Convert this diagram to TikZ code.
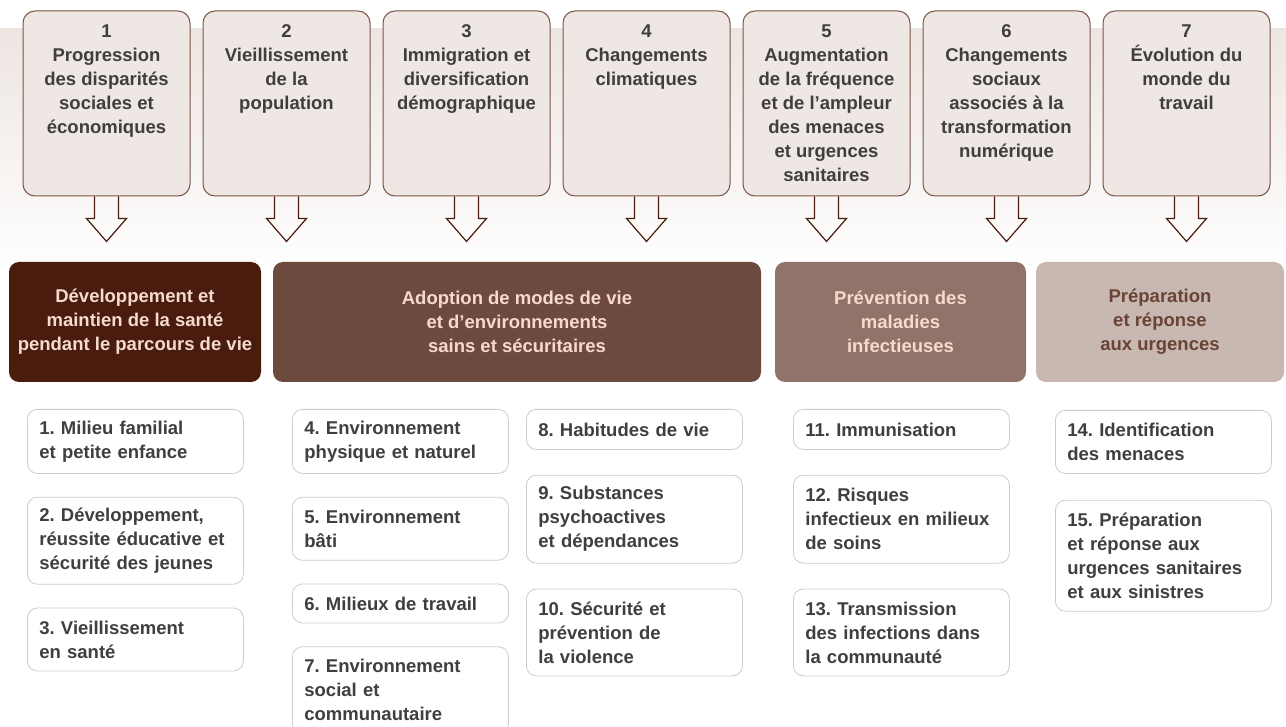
\documentclass[tikz,border=0pt]{standalone}
\usepackage{fontspec}
\setmainfont{Liberation Sans}
\usepackage{tikz}
\usetikzlibrary{positioning}
\frenchspacing
\definecolor{bandtop}{HTML}{EDE5E1}
\definecolor{driverfill}{HTML}{EFE7E3}
\definecolor{driverline}{HTML}{7A5547}
\definecolor{arrowline}{HTML}{4A1C0E}
\definecolor{axeone}{HTML}{4A1C0E}
\definecolor{axetwo}{HTML}{6D4A3D}
\definecolor{axethree}{HTML}{90746A}
\definecolor{axefour}{HTML}{C8B8B2}
\definecolor{axetext}{HTML}{F6DACD}
\definecolor{axedark}{HTML}{6B4336}
\definecolor{itemline}{HTML}{CCCCCC}
\definecolor{textgray}{HTML}{3F3F3F}

\begin{document}
\begin{tikzpicture}[x=1pt,y=-1pt,font=\bfseries\fontsize{18.5}{24}\selectfont,
						driver/.style={shape=rectangle,rounded corners=12pt,draw=driverline,fill=driverfill,line width=1pt,
							minimum width=167pt,minimum height=185pt},
						drivertext/.style={text=textgray,align=center,inner sep=0pt},
						axe/.style={shape=rectangle,rounded corners=10pt,align=center,minimum height=120pt,text=axetext},
						item/.style={shape=rectangle,rounded corners=10pt,draw=itemline,fill=white,line width=.8pt,text=textgray,
							text width=192pt,inner xsep=12pt,align=left,anchor=north west},
						hollow/.style={draw=arrowline,line width=1.2pt,line join=miter}]
		\useasboundingbox (0,0) rectangle (1286,727);
		\shade[top color=bandtop,bottom color=white] (0,29) rectangle (1286,270);

		\node[driver] (d1) at (106.5,103.5) {};
		\node[driver] (d2) at (286.5,103.5) {};
		\node[driver] (d3) at (466.5,103.5) {};
		\node[driver] (d4) at (646.5,103.5) {};
		\node[driver] (d5) at (826.5,103.5) {};
		\node[driver] (d6) at (1006.5,103.5) {};
		\node[driver] (d7) at (1186.5,103.5) {};

		\node[drivertext,below=14pt] at (d1.north) {1\\Progression\\des disparités\\sociales et\\économiques};
		\node[drivertext,below=14pt] at (d2.north) {2\\Vieillissement\\de la\\population};
		\node[drivertext,below=14pt] at (d3.north) {3\\Immigration et\\diversification\\démographique};
		\node[drivertext,below=14pt] at (d4.north) {4\\Changements\\climatiques};
		\node[drivertext,below=14pt] at (d5.north) {5\\Augmentation\\de la fréquence\\et de l’ampleur\\des menaces\\et urgences\\sanitaires};
		\node[drivertext,below=14pt] at (d6.north) {6\\Changements\\sociaux\\associés à la\\transformation\\numérique};
		\node[drivertext,below=14pt] at (d7.north) {7\\Évolution du\\monde du\\travail};

		\foreach \i in {1,...,7}
			\draw[hollow] (d\i.south) ++(-12,0) -- ++(0,22) -- ++(-8,0) -- ++(20,23) -- ++(20,-23) -- ++(-8,0) -- ++(0,-22);

		\node[axe,fill=axeone,minimum width=252pt] (sante) at (135,322) {Développement et\\maintien de la santé\\pendant le parcours de vie};
		\node[axe,fill=axetwo,minimum width=488pt] (milieux) at (517,322) {Adoption de modes de vie\\et d’environnements\\sains et sécuritaires};
		\node[axe,fill=axethree,minimum width=251pt] (infect) at (900.5,322) {Prévention des\\maladies\\infectieuses};
		\node[axe,fill=axefour,minimum width=248pt,text=axedark] (urgence) at (1160,322) {Préparation\\et réponse\\aux urgences};

		\node[item,minimum height=64pt] (i1) at (27,409) {1. Milieu familial\\et petite enfance};
		\node[item,minimum height=87pt,below=23pt of i1] (i2) {2. Développement,\\réussite éducative et\\sécurité des jeunes};
		\node[item,minimum height=63pt,below=23pt of i2] (i3) {3. Vieillissement\\en santé};

		\node[item,minimum height=64pt] (i4) at (292,409) {4. Environnement\\physique et naturel};
		\node[item,minimum height=63pt,below=23pt of i4] (i5) {5. Environnement\\bâti};
		\node[item,minimum height=39pt,below=23pt of i5] (i6) {6. Milieux de travail};
		\node[item,minimum height=87pt,below=23pt of i6] (i7) {7. Environnement\\social et\\communautaire};

		\node[item,minimum height=40pt] (i8) at (526,409) {8. Habitudes de vie};
		\node[item,minimum height=88pt,below=25pt of i8] (i9) {9. Substances\\psychoactives\\et dépendances};
		\node[item,minimum height=87pt,below=25pt of i9] (i10) {10. Sécurité et\\prévention de\\la violence};

		\node[item,minimum height=40pt] (i11) at (793,409) {11. Immunisation};
		\node[item,minimum height=88pt,below=25pt of i11] (i12) {12. Risques\\infectieux en milieux\\de soins};
		\node[item,minimum height=87pt,below=25pt of i12] (i13) {13. Transmission\\des infections dans\\la communauté};

		\node[item,minimum height=63pt] (i14) at (1055,410) {14. Identification\\des menaces};
		\node[item,minimum height=111pt,below=26pt of i14] (i15) {15. Préparation\\et réponse aux\\urgences sanitaires\\et aux sinistres};

	\end{tikzpicture}
\end{document}
